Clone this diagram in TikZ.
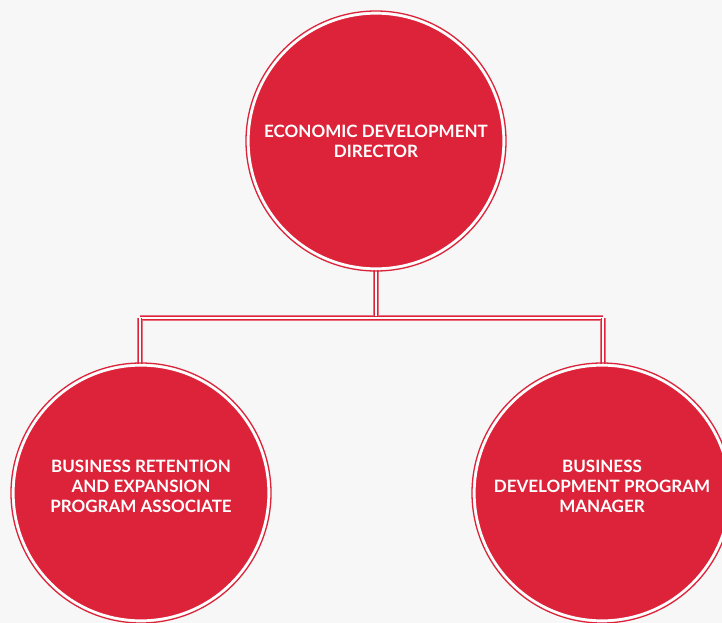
\documentclass[tikz,border=0pt]{standalone}
\usepackage{fontspec}
\setmainfont{Lato}
\usetikzlibrary{backgrounds}
\definecolor{bg}{HTML}{F7F7F7}
\definecolor{crim}{HTML}{DC2339}
\begin{document}
\begin{tikzpicture}[x=1pt,y=-1pt,
  circ/.style={circle, fill=crim, draw=white, line width=2.2pt, minimum size=255pt, inner sep=0pt},
  lbl/.style={text=white, font=\bfseries\fontsize{17}{20}\selectfont, align=center},
  ring/.style={draw=crim, line width=1.3pt},
  conn/.style={draw=crim!65, line width=6pt},
  conninner/.style={draw=crim, line width=1.3pt, double=white, double distance=1.6pt}]
\useasboundingbox (0,0) rectangle (722,623);
\node[circ] (top) at (376,141) {};
\node[circ] (left) at (141,493) {};
\node[circ] (right) at (602,493) {};
\foreach \n in {top,left,right}{
  \draw[ring] (\n) circle (130pt);
}
\node[lbl] (topt) at (376,141) {ECONOMIC DEVELOPMENT\\DIRECTOR};
\node[lbl] (leftt) at (141,486.5) {BUSINESS RETENTION\\AND EXPANSION\\PROGRAM ASSOCIATE};
\node[lbl] (rightt) at (602,486.5) {BUSINESS\\DEVELOPMENT PROGRAM\\MANAGER};
\coordinate (j) at (376,318);
\coordinate (jl) at (140,318);
\coordinate (jr) at (603,318);
\begin{pgfonlayer}{background}
\fill[bg] (0,0) rectangle (722,623);
\draw[conn] (top.south) -- (j);
\draw[conn] (jl) -- (jr);
\draw[conn] (jl) -- (jl |- left.north);
\draw[conn] (jr) -- (jr |- right.north);
\draw[conninner] (top.south) -- (j);
\draw[conninner] (jl) -- (jr);
\draw[conninner] (jl) -- (jl |- left.north);
\draw[conninner] (jr) -- (jr |- right.north);
\end{pgfonlayer}
\end{tikzpicture}
\end{document}
